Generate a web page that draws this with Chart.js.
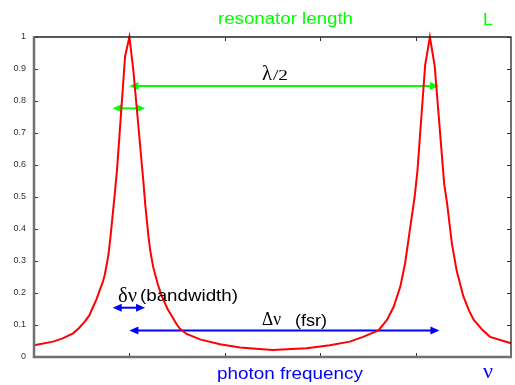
<!DOCTYPE html>
<html>
<head>
<meta charset="utf-8">
<script src="https://cdn.jsdelivr.net/npm/chart.js@4/dist/chart.umd.min.js"></script>
<style>
  html, body { margin: 0; padding: 0; background: #fff; }
  #wrap { position: relative; width: 515px; height: 385px; }
</style>
</head>
<body>
<div id="wrap"><canvas id="chart"></canvas></div>
<script>
// Transmission curve (x in tick units 0..5, y 0..1)
const freqX = [0, 0.2, 0.3, 0.41, 0.47, 0.53, 0.58, 0.62, 0.655, 0.69, 0.72, 0.74, 0.76, 0.78, 0.8, 0.83, 0.85, 0.87,
  0.955, 1.0, 1.04, 1.146, 1.165, 1.2, 1.22, 1.25, 1.3, 1.34, 1.4, 1.43, 1.5, 1.53, 1.6, 1.74, 1.95, 2.16, 2.5, 2.86,
  3.1, 3.31, 3.45, 3.61, 3.7, 3.77, 3.84, 3.89, 3.94, 3.99, 4.02, 4.1, 4.15, 4.2, 4.3, 4.33, 4.38, 4.43,
  4.5, 4.56, 4.61, 4.7, 4.78, 5.0];
const transmission = [0.037, 0.048, 0.058, 0.074, 0.09, 0.11, 0.13, 0.157, 0.18, 0.21, 0.233, 0.255, 0.285, 0.32, 0.37, 0.46, 0.52, 0.584,
  0.94, 1.0, 0.9, 0.55, 0.48, 0.376, 0.33, 0.28, 0.225, 0.19, 0.15, 0.135, 0.1, 0.088, 0.072, 0.055, 0.04, 0.03, 0.022, 0.027,
  0.037, 0.048, 0.063, 0.083, 0.116, 0.157, 0.22, 0.293, 0.397, 0.5, 0.584, 0.912, 1.0, 0.91, 0.54, 0.48, 0.356, 0.27,
  0.19, 0.145, 0.116, 0.085, 0.063, 0.043];

const yTickLabels = ["0", "0.1", "0.2", "0.3", "0.4", "0.5", "0.6", "0.7", "0.8", "0.9", "1"];

// double-headed arrows: [x start, x end, y]
const lambdaArrow = [1.0, 4.245, 0.847];
const widthArrowGreen = [0.825, 1.164, 0.777];
const widthArrowBlue = [0.825, 1.164, 0.154];
const fsrArrow = [1.0, 4.25, 0.083];

const GREEN = "#00ff00";
const BLUE = "#0000ff";

function arrowHead(ctx, x, y, dir) {
  ctx.beginPath();
  ctx.moveTo(x, y);
  ctx.lineTo(x - dir * 9, y - 4);
  ctx.lineTo(x - dir * 9, y + 4);
  ctx.closePath();
  ctx.fill();
}

function drawArrow(chart, a, color) {
  const { ctx, scales: { x, y } } = chart;
  const x1 = x.getPixelForValue(a[0]);
  const x2 = x.getPixelForValue(a[1]);
  const py = y.getPixelForValue(a[2]);
  ctx.save();
  ctx.strokeStyle = color;
  ctx.fillStyle = color;
  ctx.lineWidth = 2;
  ctx.beginPath();
  ctx.moveTo(x1 + 4, py);
  ctx.lineTo(x2 - 4, py);
  ctx.stroke();
  arrowHead(ctx, x1, py, -1);
  arrowHead(ctx, x2, py, 1);
  ctx.restore();
}

// text stretched to a given width, like the original drawing
function label(ctx, text, left, base, width, font, color) {
  ctx.save();
  ctx.font = font;
  ctx.fillStyle = color;
  ctx.textBaseline = "alphabetic";
  const w = ctx.measureText(text).width;
  ctx.translate(left, base);
  if (width) ctx.scale(width / w, 1);
  ctx.fillText(text, 0, 0);
  ctx.restore();
}

const framePlugin = {
  id: "frame",
  beforeDatasetsDraw(chart) {
    drawArrow(chart, lambdaArrow, GREEN);
    drawArrow(chart, widthArrowGreen, GREEN);
    drawArrow(chart, widthArrowBlue, BLUE);
    drawArrow(chart, fsrArrow, BLUE);
  },
  afterDraw(chart) {
    const { ctx, chartArea: a, scales: { x, y } } = chart;
    ctx.save();
    // top and right border
    ctx.strokeStyle = "#222";
    ctx.lineWidth = 1.3;
    ctx.beginPath();
    ctx.moveTo(a.left, a.top);
    ctx.lineTo(a.right, a.top);
    ctx.lineTo(a.right, a.bottom);
    ctx.stroke();
    // inward ticks
    ctx.lineWidth = 1;
    ctx.strokeStyle = "#333";
    ctx.beginPath();
    y.ticks.forEach((t) => {
      const py = Math.round(y.getPixelForValue(t.value)) + 0.5;
      ctx.moveTo(a.left, py); ctx.lineTo(a.left + 4, py);
      ctx.moveTo(a.right, py); ctx.lineTo(a.right - 4, py);
    });
    x.ticks.forEach((t) => {
      if (t.value <= x.min || t.value >= x.max) return;
      const px = Math.round(x.getPixelForValue(t.value)) + 0.5;
      ctx.moveTo(px, a.bottom); ctx.lineTo(px, a.bottom - 4);
      ctx.moveTo(px, a.top); ctx.lineTo(px, a.top + 4);
    });
    ctx.stroke();
    // left and bottom axis, grey and heavier
    ctx.strokeStyle = "#707070";
    ctx.lineWidth = 2.5;
    ctx.beginPath();
    ctx.moveTo(a.left, a.top - 1);
    ctx.lineTo(a.left, a.bottom);
    ctx.lineTo(a.right + 1, a.bottom);
    ctx.stroke();
    ctx.restore();

    const sans = "17px 'Liberation Sans', Arial, sans-serif";
    const serif = "'Liberation Serif', 'Times New Roman', serif";
    label(ctx, "resonator length", 218, 24, 135, "16px 'Liberation Sans', Arial, sans-serif", GREEN);
    label(ctx, "L", 483, 25, 10, "16px 'Liberation Sans', Arial, sans-serif", GREEN);
    label(ctx, "photon frequency", 217, 379, 146, sans, BLUE);
    label(ctx, "\u03bd", 483, 378, 10, "20px " + serif, BLUE);
    label(ctx, "\u03bb", 262, 80, 10, "20px " + serif, "#000");
    label(ctx, "/2", 273, 80, 15, "15px " + serif, "#000");
    label(ctx, "\u03b4\u03bd", 118, 302, 19, "20px " + serif, "#000");
    label(ctx, "(bandwidth)", 140, 301, 98, sans, "#000");
    label(ctx, "\u0394\u03bd", 262, 325, 19, "19px " + serif, "#000");
    label(ctx, "(fsr)", 295, 326, 32, sans, "#000");
  }
};

Chart.defaults.font.family = "'Liberation Sans', Arial, sans-serif";

new Chart(document.getElementById("chart"), {
  type: "scatter",
  data: {
    datasets: [{
      data: freqX.map((v, i) => ({ x: v, y: transmission[i] })),
      showLine: true,
      borderColor: "#ff0000",
      borderWidth: 2,
      pointRadius: 0,
      tension: 0,
      clip: false
    }]
  },
  options: {
    responsive: true,
    maintainAspectRatio: false,
    animation: false,
    layout: { padding: { top: 37, right: 4, left: 0, bottom: 0 } },
    plugins: { legend: { display: false }, tooltip: { enabled: false } },
    scales: {
      x: {
        type: "linear",
        min: 0, max: 5,
        ticks: { stepSize: 1, display: false },
        grid: { display: false },
        border: { display: false },
        afterFit(s) { s.height = 28; }
      },
      y: {
        min: 0, max: 1,
        ticks: {
          stepSize: 0.1, padding: 8, color: "#333", font: { size: 9 },
          callback: (v, i) => yTickLabels[i]
        },
        grid: { display: false, drawTicks: false },
        border: { display: false },
        afterFit(s) { s.width = 34; }
      }
    }
  },
  plugins: [framePlugin]
});
</script>
</body>
</html>
